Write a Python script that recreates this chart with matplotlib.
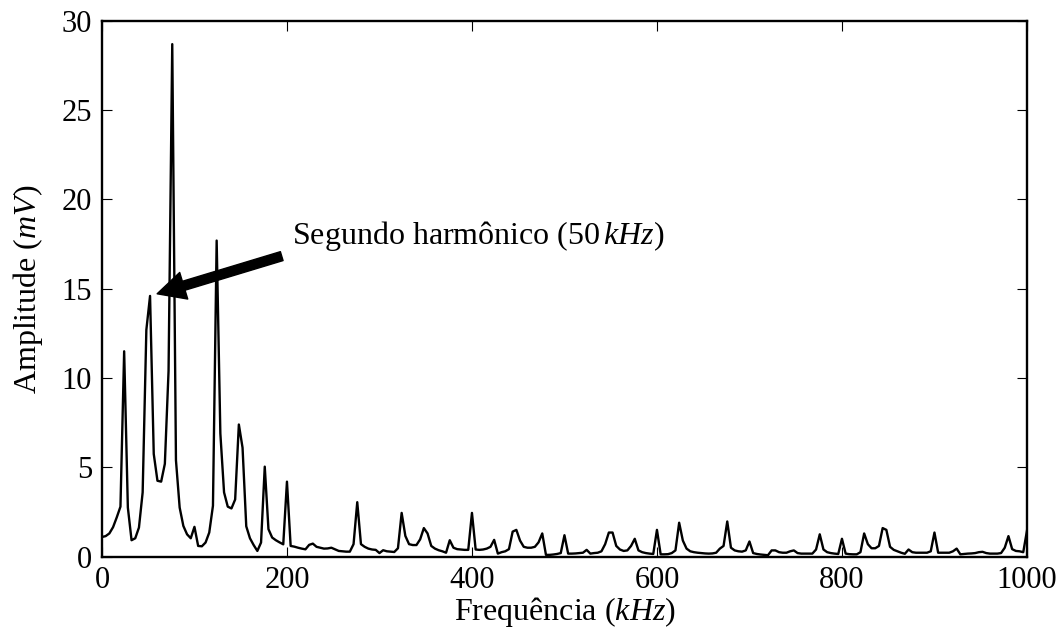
import numpy as np
import matplotlib
matplotlib.use("Agg")
from matplotlib import pyplot as plt

# spectrum amplitude (mV), one value every 4 kHz from 0 to 1000 kHz
freq_step = 4
amplitude = [
    1.1, 1.15, 1.3, 1.65, 2.2, 2.8, 11.5, 2.75, 0.92, 1.03,
    1.63, 3.6, 12.7, 14.6, 5.75, 4.25, 4.2, 5.2, 10.4, 28.7,
    5.4, 2.75, 1.72, 1.25, 1.03, 1.67, 0.6, 0.58, 0.79, 1.35,
    2.85, 17.7, 6.9, 3.6, 2.8, 2.7, 3.2, 7.4, 6.1, 1.7,
    1.03, 0.65, 0.32, 0.79, 5.04, 1.54, 1.07, 0.92, 0.8, 0.69,
    4.2, 0.6, 0.56, 0.5, 0.45, 0.41, 0.66, 0.73, 0.55, 0.5,
    0.45, 0.46, 0.5, 0.41, 0.32, 0.3, 0.28, 0.28, 0.7, 3.05,
    0.7, 0.55, 0.45, 0.4, 0.38, 0.2, 0.36, 0.3, 0.28, 0.26,
    0.47, 2.45, 1.16, 0.7, 0.65, 0.65, 0.97, 1.6, 1.3, 0.6,
    0.45, 0.36, 0.3, 0.22, 0.92, 0.5, 0.42, 0.4, 0.38, 0.38,
    2.45, 0.4, 0.38, 0.4, 0.45, 0.55, 0.94, 0.17, 0.25, 0.3,
    0.42, 1.4, 1.5, 0.9, 0.55, 0.5, 0.5, 0.55, 0.8, 1.3,
    0.1, 0.1, 0.12, 0.15, 0.2, 1.2, 0.17, 0.17, 0.18, 0.2,
    0.22, 0.38, 0.17, 0.2, 0.22, 0.3, 0.7, 1.35, 1.35, 0.6,
    0.4, 0.32, 0.35, 0.6, 1.0, 0.35, 0.25, 0.2, 0.17, 0.15,
    1.5, 0.13, 0.13, 0.14, 0.2, 0.35, 1.9, 0.9, 0.45, 0.3,
    0.25, 0.22, 0.2, 0.18, 0.17, 0.18, 0.22, 0.45, 0.6, 1.97,
    0.5, 0.35, 0.3, 0.28, 0.35, 0.85, 0.2, 0.15, 0.12, 0.1,
    0.08, 0.35, 0.35, 0.25, 0.22, 0.22, 0.3, 0.35, 0.2, 0.17,
    0.17, 0.17, 0.17, 0.4, 1.25, 0.4, 0.25, 0.2, 0.17, 0.15,
    1.0, 0.17, 0.14, 0.13, 0.13, 0.25, 1.3, 0.7, 0.47, 0.47,
    0.6, 1.6, 1.5, 0.55, 0.38, 0.3, 0.22, 0.16, 0.4, 0.25,
    0.22, 0.22, 0.22, 0.22, 0.3, 1.35, 0.22, 0.22, 0.22, 0.22,
    0.3, 0.45, 0.13, 0.15, 0.17, 0.18, 0.2, 0.25, 0.27, 0.2,
    0.17, 0.17, 0.17, 0.2, 0.5, 1.15, 0.42, 0.32, 0.3, 0.25,
    1.45,
]
freq = np.arange(len(amplitude)) * freq_step

xticks = [0, 200, 400, 600, 800, 1000]
yticks = [0, 5, 10, 15, 20, 25, 30]
label_text = "Segundo harm\u00f4nico ($50\\,kHz$)"
peak_freq = 52
peak_amp = 14.6

plt.rcParams['font.family'] = 'Liberation Serif'
plt.rcParams['mathtext.fontset'] = 'custom'
plt.rcParams['mathtext.rm'] = 'Liberation Serif'
plt.rcParams['mathtext.it'] = 'Liberation Serif:italic'
plt.rcParams['font.size'] = 23

fig = plt.figure(figsize=(10.62, 6.34), dpi=100)
ax = fig.add_axes([0.096, 0.122, 0.871, 0.845])

ax.plot(freq, amplitude, 'k-', lw=1.7)

ax.annotate(label_text, xy=(peak_freq, peak_amp), xytext=(205, 17.5),
            arrowprops=dict(facecolor='black', shrink=0.05,
                            width=6.7, headwidth=20, headlength=20))

ax.set_xlim(0, 1000)
ax.set_ylim(0, 30)
ax.set_xticks(xticks)
ax.set_yticks(yticks)
ax.tick_params(direction='in', top=True, right=True, length=7.5, width=0.8,
               pad=7, labelsize=22)
for s in ax.spines.values():
    s.set_linewidth(1.7)

ax.set_xlabel("Frequ\u00eancia ($kHz$)", labelpad=0)
ax.set_ylabel("Amplitude ($mV$)", labelpad=12)

fig.savefig("out.png", dpi=100)
